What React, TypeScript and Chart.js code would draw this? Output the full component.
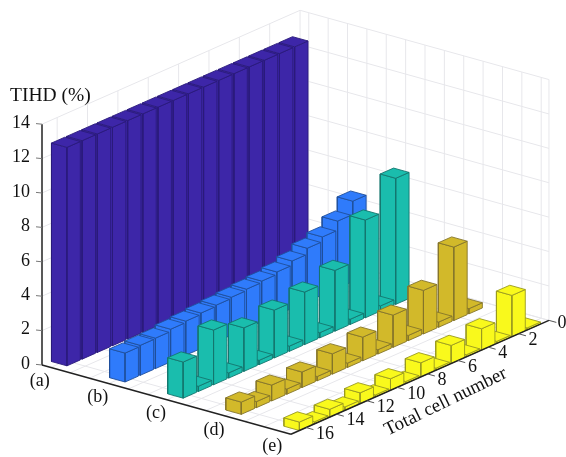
import React, { useEffect, useRef } from "react";
import { Chart, registerables } from "chart.js";

Chart.register(...registerables);

const categories = ["(a)", "(b)", "(c)", "(d)", "(e)"];
const cellNumbers = [16, 15, 14, 13, 12, 11, 10, 9, 8, 7, 6, 5, 4, 3, 2, 1];
const zTicks = [0, 2, 4, 6, 8, 10, 12, 14];
const cellTicks = [0, 2, 4, 6, 8, 10, 12, 14, 16];

const seriesA = [12.7, 12.7, 12.7, 12.7, 12.7, 12.7, 12.7, 12.7, 12.7, 12.7, 12.7, 12.7, 12.7, 12.7, 12.7, 12.7];
const seriesB = [1.68, 1.74, 1.77, 1.9, 1.98, 2.06, 2.13, 2.2, 2.28, 2.36, 2.5, 2.75, 3.1, 3.37, 3.9, 4.67];
const seriesC = [2.1, 0.3, 3.18, 0.3, 2.53, 0.25, 2.78, 0.3, 3.05, 0.3, 3.53, 0.3, 5.68, 0.3, 7.33, null];
const seriesD = [0.71, 0.35, 0.92, 0.3, 0.9, 0.25, 1.18, 0.25, 1.37, 0.25, 1.87, 0.3, 2.53, 0.3, 4.27, 0.3];
const seriesE = [0.49, 0.12, 0.45, 0.2, 0.63, 0.12, 0.67, 0.12, 0.82, 0.12, 1.05, 0.12, 1.24, 0.12, 2.4, 0.12];

const allSeries = [seriesA, seriesB, seriesC, seriesD, seriesE];
const fills = ["#3d26a8", "#2f7bfb", "#1abdad", "#d2b92a", "#f9f91c"];
const edges = ["#2a1b7a", "#1f4f9c", "#14766e", "#85752a", "#9a9a20"];

const rowUnits = [1, 4, 7, 10, 13];
const U_MIN = 0.55;
const U_MAX = 13.4;
const CELL_MAX = 17;

// oblique projection of the 3-D box on to the two flat scales
const ORIGIN = [42, 365];
const PER_U = [19.37, 5.39];
const PER_CELL = [-15.18, 6.7];
const PER_Z = 17.2;
const project = (u: number, cell: number, z: number) => {
  const du = u - U_MIN;
  const dc = CELL_MAX - cell;
  return {
    x: ORIGIN[0] + PER_U[0] * du - PER_CELL[0] * dc,
    y: ORIGIN[1] + PER_U[1] * du - PER_CELL[1] * dc - PER_Z * z,
  };
};

const HALF_U = 0.4;
const HALF_CELL = 0.44;
const GRID = "#e7e7eb";
const SERIF = "'Liberation Serif', serif";

function buildDatasets() {
  const out: any[] = [];
  const line = (pts: { x: number; y: number }[], color: string, width: number) =>
    out.push({ data: pts, showLine: true, borderColor: color, borderWidth: width, pointRadius: 0, fill: false });
  const poly = (pts: { x: number; y: number }[], fill: string, edge: string) =>
    out.push({
      data: [...pts, pts[0]],
      showLine: true,
      borderColor: edge,
      backgroundColor: fill,
      borderWidth: 0.9,
      pointRadius: 0,
      fill: "shape",
    });

  // walls and floor grid
  for (const z of zTicks) {
    if (z === 0) continue;
    line([project(U_MIN, CELL_MAX, z), project(U_MIN, 0, z)], GRID, 1);
    line([project(U_MIN, 0, z), project(U_MAX, 0, z)], GRID, 1);
  }
  for (const c of cellTicks) {
    line([project(U_MIN, c, 0), project(U_MIN, c, 14)], GRID, 1);
    line([project(U_MIN, c, 0), project(U_MAX, c, 0)], GRID, 1);
  }
  for (let u = 1; u <= 13; u++) {
    line([project(u, 0, 0), project(u, 0, 14)], GRID, 1);
    line([project(u, 0, 0), project(u, CELL_MAX, 0)], GRID, 1);
  }
  line([project(U_MAX, 0, 0), project(U_MAX, 0, 14)], GRID, 1);
  line([project(U_MIN, 0, 0), project(U_MAX, 0, 0)], GRID, 1);

  // bars, back to front
  rowUnits.forEach((u, r) => {
    for (let i = cellNumbers.length - 1; i >= 0; i--) {
      const v = allSeries[r][i];
      if (v === null) continue;
      const c = cellNumbers[i];
      const u0 = u - HALF_U;
      const u1 = u + HALF_U;
      const c0 = c + HALF_CELL; // nearer the viewer
      const c1 = c - HALF_CELL;
      poly([project(u0, c0, 0), project(u1, c0, 0), project(u1, c0, v), project(u0, c0, v)], fills[r], edges[r]);
      poly([project(u1, c0, 0), project(u1, c1, 0), project(u1, c1, v), project(u1, c0, v)], fills[r], edges[r]);
      poly([project(u0, c0, v), project(u1, c0, v), project(u1, c1, v), project(u0, c1, v)], fills[r], edges[r]);
    }
  });

  // axes and ticks
  line([project(U_MIN, CELL_MAX, 0), project(U_MIN, CELL_MAX, 14)], "#222222", 1.5);
  line([project(U_MIN, CELL_MAX, 0), project(U_MAX, CELL_MAX, 0)], "#222222", 1.5);
  line([project(U_MAX, CELL_MAX, 0), project(U_MAX, 0, 0)], "#222222", 1.5);
  for (const c of cellTicks) {
    line([project(U_MAX, c, 0), project(U_MAX + 0.38, c, 0)], "#555555", 1);
  }
  for (const z of zTicks) {
    const a = project(U_MIN, CELL_MAX, z);
    line([a, { x: a.x - 6, y: a.y - 0.6 }], "#777777", 1);
  }
  return out.map((d, i) => ({ ...d, order: -i }));
}

const labelPlugin = {
  id: "boxLabels",
  afterDraw(chart: any) {
    const { ctx, scales } = chart;
    const px = (p: { x: number; y: number }) => [scales.x.getPixelForValue(p.x), scales.y.getPixelForValue(p.y)];
    ctx.save();
    ctx.fillStyle = "#111111";
    ctx.textBaseline = "middle";
    ctx.font = `18px ${SERIF}`;

    ctx.textAlign = "right";
    for (const z of zTicks) {
      const [x, y] = px(project(U_MIN, CELL_MAX, z));
      ctx.fillText(String(z), x - 12, y - 1);
    }
    ctx.textAlign = "center";
    categories.forEach((c, r) => {
      const [x, y] = px(project(rowUnits[r], CELL_MAX, 0));
      ctx.fillText(c, x - 11, y + 14);
    });
    ctx.textAlign = "left";
    for (const c of cellTicks) {
      const [x, y] = px(project(U_MAX, c, 0));
      if (c === 0) ctx.fillText(String(c), x + 8.5, y + 3);
      else ctx.fillText(String(c), x + 10, y + 6.5);
    }
    ctx.font = `19.5px ${SERIF}`;
    ctx.fillText("TIHD (%)", 10, 96);

    const [tx, ty] = px(project(U_MAX + 2.58, 10.09, 0));
    ctx.translate(tx, ty);
    ctx.rotate((-26 * Math.PI) / 180);
    ctx.textAlign = "center";
    ctx.font = `19px ${SERIF}`;
    ctx.fillText("Total cell number", 0, 0);
    ctx.restore();
  },
};

export default function App() {
  const ref = useRef<HTMLCanvasElement>(null);
  useEffect(() => {
    if (!ref.current) return;
    const chart = new Chart(ref.current, {
      type: "scatter",
      data: { datasets: buildDatasets() },
      options: {
        animation: false,
        responsive: false,
        devicePixelRatio: 1,
        layout: { padding: 0 },
        elements: { line: { tension: 0, borderJoinStyle: "round" } },
        plugins: { legend: { display: false }, tooltip: { enabled: false } },
        events: [],
        scales: {
          x: { type: "linear", min: 0, max: 566, display: false },
          y: { type: "linear", min: 0, max: 457, reverse: true, display: false },
        },
      },
      plugins: [labelPlugin],
    } as any);
    return () => chart.destroy();
  }, []);
  return (
    <div style={{ position: "absolute", left: 0, top: 0, width: 566, height: 457, background: "#ffffff" }}>
      <canvas ref={ref} width={566} height={457} style={{ display: "block", filter: "blur(0.4px)" }} />
    </div>
  );
}
